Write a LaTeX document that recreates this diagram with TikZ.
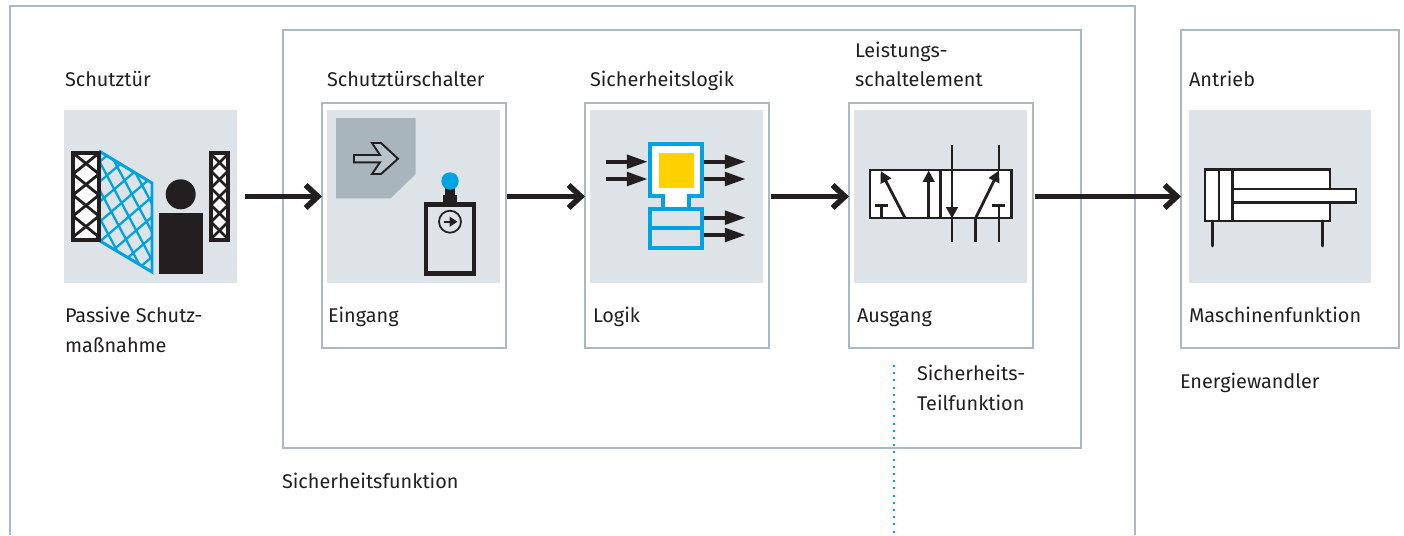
\documentclass[tikz,border=0pt]{standalone}
\usepackage{fontspec}
\setmainfont{Fira Sans}
\usetikzlibrary{arrows.meta}
\definecolor{saFrame}{RGB}{170,185,195}
\definecolor{saTile}{RGB}{222,227,231}
\definecolor{saDark}{RGB}{168,181,189}
\definecolor{saBlue}{RGB}{0,163,226}
\definecolor{saYellow}{RGB}{255,209,0}
\definecolor{saBlack}{RGB}{35,31,32}
\tikzset{
    base/.style={font=\fontsize{11.3}{14}\selectfont, text=saBlack, inner sep=0pt, outer sep=0pt},
    caption/.style={base, anchor=base west},
    frame/.style={draw=saFrame, line width=1.35pt, fill=none, anchor=north west, inner sep=0pt, outer sep=0pt},
    tile/.style={fill=saTile, anchor=north west, inner sep=0pt, outer sep=0pt, minimum width=3.46cm, minimum height=3.46cm},
    flow/.style={-{Straight Barb[length=7pt, width=13pt, line width=3.2pt]}, line width=3.2pt, color=saBlack},
    sig/.style={-{Triangle[length=12pt, width=7.5pt]}, line width=2.5pt, color=saBlack},
    sym/.style={line width=1.6pt, color=saBlack},
    tip/.style={-{Triangle[length=6.5pt, width=6.5pt]}, line width=1.6pt, color=saBlack}
}
\begin{document}
\begin{tikzpicture}[x=0.02cm, y=-0.02cm]
  \useasboundingbox (0,0) rectangle (1404,535);

  % outer and inner frames
  \draw[saFrame, line width=1.35pt] (10,535) -- (10,6) -- (1135,6) -- (1135,535);
  \node[frame, minimum width=15.96cm, minimum height=8.36cm] (boxFunktion) at (283,30) {};
  \node[frame, minimum width=3.68cm, minimum height=4.9cm] (boxEingang) at (322,103) {};
  \node[frame, minimum width=3.68cm, minimum height=4.9cm] (boxLogik) at (585,103) {};
  \node[frame, minimum width=3.68cm, minimum height=4.9cm] (boxAusgang) at (849,103) {};
  \node[frame, minimum width=4.36cm, minimum height=6.36cm] (boxAntrieb) at (1181,30) {};

  % tiles
  \node[tile] (tileTuer) at (64,110) {};
  \node[tile] (tileEingang) at (327,110) {};
  \node[tile] (tileLogik) at (590,110) {};
  \node[tile] (tileAusgang) at (854,110) {};
  \node[tile, minimum width=3.64cm] (tileAntrieb) at (1189,110) {};

  % door and person
  \begin{scope}
    \clip (100,150) -- (152,183) -- (152,273) -- (100,241) -- cycle;
    \foreach \i in {-5,...,8} {
      \draw[saBlue, line width=1.3pt] (88+15*\i,140) -- ++(80,150);
      \draw[saBlue, line width=1.3pt] (90,150+20*\i) -- ++(70,-60);
    }
  \end{scope}
  \draw[saBlue, line width=1.7pt, line join=miter] (99,151) -- (152,183) -- (152,272) -- (100,241);
  \begin{scope}
    \clip (73,153) rectangle (99,240);
    \fill[white] (73,153) rectangle (99,240);
    \foreach \i in {0,...,4} {
      \draw[saBlack, line width=1.6pt] (73,132+21*\i) -- (99,153+21*\i);
      \draw[saBlack, line width=1.6pt] (73,174+21*\i) -- (99,153+21*\i);
    }
  \end{scope}
  \draw[saBlack, line width=2.4pt] (73,153) rectangle (99,240);
  \begin{scope}
    \clip (211,153) rectangle (228,240);
    \fill[white] (211,153) rectangle (228,240);
    \foreach \i in {0,...,5} {
      \draw[saBlack, line width=1.6pt] (211,137+17*\i) -- (228,154+17*\i);
      \draw[saBlack, line width=1.6pt] (211,171+17*\i) -- (228,154+17*\i);
    }
  \end{scope}
  \draw[saBlack, line width=2.4pt] (211,153) rectangle (228,240);
  \fill[saBlack] (180.7,194.3) circle (15);
  \fill[saBlack] (159,213) rectangle (203,274);

  % switch
  \fill[saDark] (336,118) -- (415.7,118) -- (415.7,174) -- (390.7,198.3) -- (336,198.3) -- cycle;
  \draw[saBlack, line width=1.1pt, fill=saDark!70!saTile] (354,155) -- (380,155) -- (372,143) -- (381,143) -- (398,158.7) -- (381,174) -- (372,174) -- (380,162.3) -- (354,162.3) -- cycle;
  \fill[saBlack] (442.7,195) rectangle (457.3,203);
  \fill[saBlack] (445,185) rectangle (455,195);
  \fill[saBlue] (450,181) circle (8.7);
  \draw[saBlack, line width=2.4pt] (426,204.5) rectangle (474,273.5);
  \draw[saBlack, line width=1pt] (450,221.7) circle (11);
  \draw[saBlack, line width=1.3pt, -{Triangle[length=4.5pt, width=5.5pt]}] (443.5,221.7) -- (457.5,221.7);

  % logic block
  \draw[saBlue, line width=2.4pt, fill=white] (650.3,144.3) -- (702,144.3) -- (702,196.3) -- (689,196.3) -- (689,209) -- (663.3,209) -- (663.3,196.3) -- (650.3,196.3) -- cycle;
  \fill[saYellow] (659,153) rectangle (694,188);
  \draw[saBlue, line width=2.4pt] (650.3,209) rectangle (702,248);
  \draw[saBlue, line width=2.4pt] (650.3,228.3) -- (702,228.3);
  \foreach \y in {161.7,179} {
    \draw[sig] (606,\y) -- (648,\y);
    \draw[sig] (704,\y) -- (746,\y);
  }
  \foreach \y in {217.7,235} {
    \draw[sig] (704,\y) -- (746,\y);
  }

  % valve
  \draw[sym, fill=white] (870,170) rectangle (1011.5,218);
  \draw[sym, line width=2pt] (940.7,170) -- (940.7,218);
  \draw[tip] (905,218) -- (880.7,171);
  \draw[tip] (928.7,218) -- (928.7,170.5);
  \draw[sym] (875,205.7) -- (887.7,205.7);
  \draw[sym] (881.7,205.7) -- (881.7,218);
  \draw[sym] (952,145) -- (952,241.7);
  \draw[tip] (952,170) -- (952,218.5);
  \draw[sym] (975.7,241.7) -- (975.7,218);
  \draw[tip] (975.7,218) -- (999,170.5);
  \draw[sym] (999,145) -- (999,170);
  \draw[sym] (992,205.7) -- (1005,205.7);
  \draw[sym] (999,205.7) -- (999,241.7);

  % cylinder
  \draw[sym, fill=white] (1205,169.3) rectangle (1330,221);
  \draw[sym] (1219,169.3) -- (1219,221);
  \draw[sym] (1232.3,169.3) -- (1232.3,221);
  \draw[sym, fill=white] (1232.3,189) rectangle (1356,202.3);
  \draw[sym, line cap=round] (1212.3,221) -- (1212.3,246);
  \draw[sym, line cap=round] (1322.7,221) -- (1322.7,246);

  % arrows between blocks
  \draw[flow, shorten <=0.16cm] (tileTuer.east) -- (boxEingang.west |- tileTuer.east);
  \draw[flow, shorten <=0.03cm] (boxEingang.east |- tileEingang.east) -- (boxLogik.west |- tileEingang.east);
  \draw[flow, shorten <=0.04cm] (boxLogik.east |- tileLogik.east) -- (boxAusgang.west |- tileLogik.east);
  \draw[flow, shorten <=0.04cm] (boxAusgang.east |- tileAusgang.east) -- (boxAntrieb.west |- tileAusgang.east);

  % dotted line
  \coordinate (dotTop) at (894,365);
  \coordinate (dotEnd) at (894,535);
  \draw[saBlue, line width=1.1pt, dash pattern=on 1.1pt off 3pt] (dotTop) -- (dotEnd);

  % texts
  \node[caption] (txtTuer) at (65,86.5) {Schutztür};
  \node[caption] (txtSchalter) at (327,86.5) {Schutztürschalter};
  \node[caption] (txtLogik) at (590,86.5) {Sicherheitslogik};
  \node[caption] (txtLeistung) at (855,57) {Leistungs-};
  \node[caption] (txtSchalt) at (855,86.5) {schaltelement};
  \node[caption] (txtAntrieb) at (1189,86.5) {Antrieb};
  \node[caption] (txtPassiv) at (65,322) {Passive Schutz-};
  \node[caption] (txtMass) at (65,352) {maßnahme};
  \node[caption] (txtEingang) at (328,322) {Eingang};
  \node[caption] (txtLog) at (593,322) {Logik};
  \node[caption] (txtAusgang) at (857,322) {Ausgang};
  \node[caption] (txtMaschine) at (1189,322) {Maschinenfunktion};
  \node[caption] (txtTeil) at (917,380) {Sicherheits-};
  \node[caption] (txtTeilF) at (917,410) {Teilfunktion};
  \node[caption] (txtEnergie) at (1180,388.5) {Energiewandler};
  \node[caption] (txtFunktion) at (282,488.5) {Sicherheitsfunktion};
\end{tikzpicture}
\end{document}
